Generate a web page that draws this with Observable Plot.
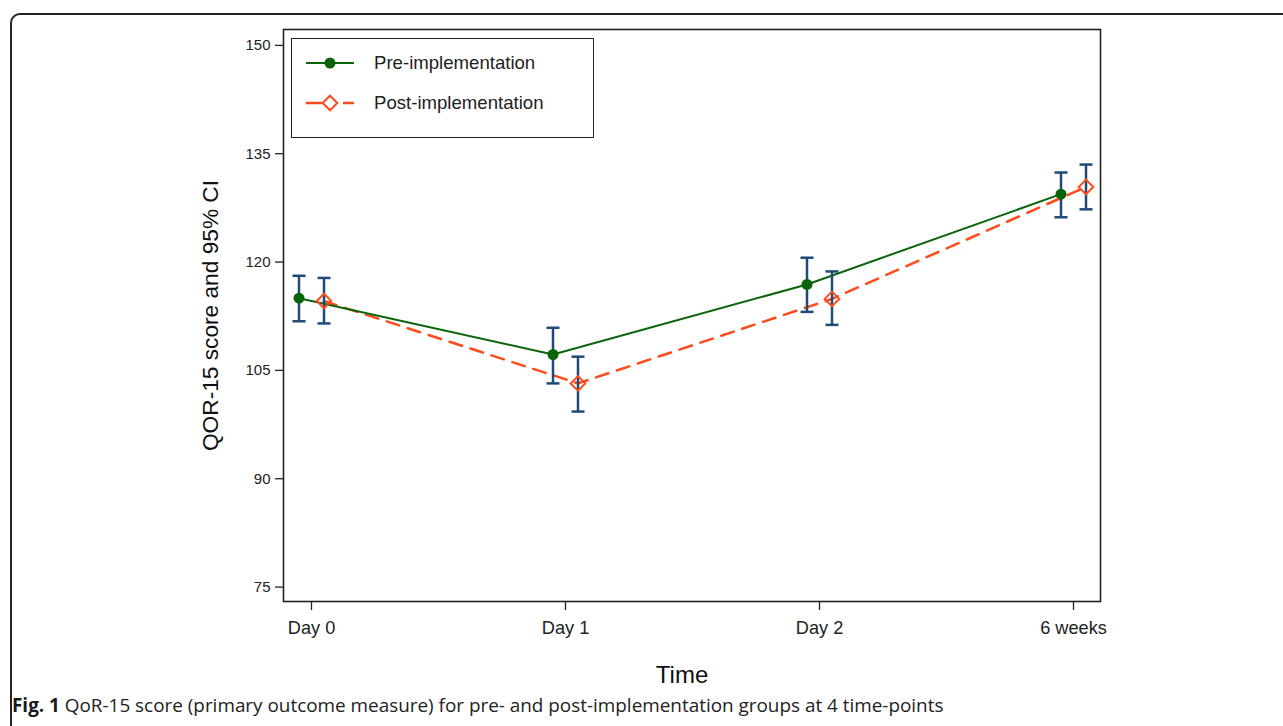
<!DOCTYPE html>
<html>
<head>
<meta charset="utf-8">
<script src="https://cdn.jsdelivr.net/npm/d3@7"></script>
<script src="https://cdn.jsdelivr.net/npm/@observablehq/plot@0.6"></script>
<style>
  html, body { margin: 0; padding: 0; background: #fff; overflow: hidden; }
  #wrap { position: relative; width: 1283px; height: 726px; overflow: hidden; }
  #border { position: absolute; left: 10px; top: 13px; width: 1320px; height: 800px;
            border: 2px solid #222; border-radius: 10px; box-sizing: border-box; }
  #chart { position: absolute; left: 0; top: 0; }
  #legend { position: absolute; left: 291px; top: 38px; width: 303px; height: 100px;
            border: 1.5px solid #222; box-sizing: border-box; background: #fff;
            font-family: "Liberation Sans", Arial, sans-serif; font-size: 18.6px; color: #222; }
  #legend .item { position: absolute; left: 0; height: 20px; display: flex; align-items: center; }
  #legend svg { position: absolute; left: 13px; }
  #legend span { position: absolute; left: 82px; white-space: nowrap; }
  #caption { position: absolute; left: 12px; top: 696px; font-family: "Open Sans", "Noto Sans", sans-serif;
             font-size: 18.9px; color: #222; white-space: nowrap; line-height: 1; }
  #caption b { color: #1a1a1a; }
</style>
</head>
<body>
<div id="wrap">
  <div id="border"></div>
  <div id="chart"></div>
  <div id="caption"><b>Fig. 1</b> QoR-15 score (primary outcome measure) for pre- and post-implementation groups at 4 time-points</div>
</div>
<script>
// ---- data ----
const timepoints = ["Day 0", "Day 1", "Day 2", "6 weeks"];
const groups = ["Pre-implementation", "Post-implementation"];
const preMean  = [115.0, 107.2, 116.9, 129.4];
const preLow   = [111.8, 103.2, 113.1, 126.2];
const preHigh  = [118.1, 110.9, 120.6, 132.4];
const postMean = [114.6, 103.2, 114.9, 130.4];
const postLow  = [111.5,  99.3, 111.3, 127.3];
const postHigh = [117.8, 106.9, 118.7, 133.5];
const yTicks = [75, 90, 105, 120, 135, 150];

const pre = timepoints.map((t, i) => ({time: t, group: groups[0], mean: preMean[i], low: preLow[i], high: preHigh[i]}));
const post = timepoints.map((t, i) => ({time: t, group: groups[1], mean: postMean[i], low: postLow[i], high: postHigh[i]}));

const green = "#0a640a";
const orange = "#ff4a1a";
const blue = "#1f4a78";
const font = "'Liberation Sans', Arial, sans-serif";

const capSymbol = { draw(ctx) { ctx.moveTo(-6.5, 0); ctx.lineTo(6.5, 0); } };
const diamondSymbol = { draw(ctx) { const h = 7.3; ctx.moveTo(0, -h); ctx.lineTo(h, 0); ctx.lineTo(0, h); ctx.lineTo(-h, 0); ctx.closePath(); } };

const offPre = -12.5, offPost = 12.5;

const errorMarks = (data, dx) => [
  Plot.ruleX(data, {x: "time", y1: "low", y2: "high", dx, stroke: blue, strokeWidth: 2.5}),
  Plot.dot(data, {x: "time", y: "low", dx, r: 5, symbol: capSymbol, stroke: blue, strokeWidth: 2.5, fill: "none"}),
  Plot.dot(data, {x: "time", y: "high", dx, r: 5, symbol: capSymbol, stroke: blue, strokeWidth: 2.5, fill: "none"})
];

const chart = Plot.plot({
  width: 1283,
  height: 695,
  marginLeft: 283,
  marginRight: 183,
  marginTop: 29,
  marginBottom: 94,
  style: {fontFamily: font, color: "#222", background: "transparent"},
  x: {type: "point", domain: timepoints, padding: 0.106},
  y: {domain: [73.0, 152.2]},
  marks: [
    Plot.axisY({ticks: yTicks, tickSize: 8, tickPadding: 5, fontSize: 15, label: null, stroke: "#222", strokeWidth: 1.3}),
    Plot.axisX({tickSize: 9, tickPadding: 11, fontSize: 18.2, label: null, stroke: "#222", strokeWidth: 1.3}),
    Plot.line(post, {x: "time", y: "mean", dx: offPost, stroke: orange, strokeWidth: 2.5, strokeDasharray: "13,9"}),
    Plot.line(pre, {x: "time", y: "mean", dx: offPre, stroke: green, strokeWidth: 2}),
    ...errorMarks(pre, offPre),
    ...errorMarks(post, offPost),
    Plot.dot(pre, {x: "time", y: "mean", dx: offPre, r: 5.5, fill: green, stroke: "none"}),
    Plot.dot(post, {x: "time", y: "mean", dx: offPost, r: 6, symbol: diamondSymbol, stroke: orange, strokeWidth: 2, fill: "none"}),
    Plot.frame({stroke: "#222", strokeWidth: 1.6}),
    Plot.text(["QOR-15 score and 95% CI"], {frameAnchor: "left", textAnchor: "middle", rotate: -90, dx: -73, fontSize: 22.7, fill: "#111"}),
    Plot.text(["Time"], {frameAnchor: "bottom", dx: -10, dy: 81, fontSize: 24, fill: "#111"})
  ]
});
document.getElementById("chart").appendChild(chart);

// legend (overlay inside the plot frame)
const legend = document.createElement("div");
legend.id = "legend";
const legendItems = [
  {label: groups[0], top: 14, svg: `<svg width="52" height="20"><line x1="1" y1="10" x2="49" y2="10" stroke="${green}" stroke-width="2"/><circle cx="25" cy="10" r="5.5" fill="${green}"/></svg>`},
  {label: groups[1], top: 54, svg: `<svg width="52" height="20"><line x1="1" y1="10" x2="17" y2="10" stroke="${orange}" stroke-width="2.5"/><path d="M25,2.7L32.3,10L25,17.3L17.7,10Z" fill="none" stroke="${orange}" stroke-width="2"/><line x1="38" y1="10" x2="49" y2="10" stroke="${orange}" stroke-width="2.5"/></svg>`}
];
for (const it of legendItems) {
  const d = document.createElement("div");
  d.className = "item";
  d.style.top = it.top + "px";
  d.style.width = "300px";
  d.innerHTML = it.svg + `<span>${it.label}</span>`;
  legend.appendChild(d);
}
document.getElementById("wrap").appendChild(legend);
</script>
</body>
</html>
